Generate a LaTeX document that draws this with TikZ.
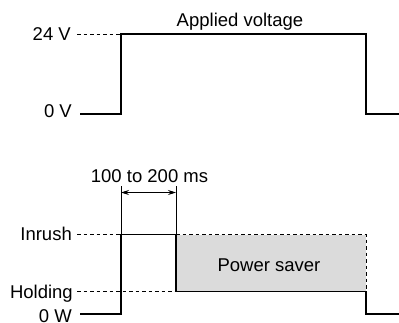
\documentclass[tikz,border=0pt]{standalone}
\usepackage{fontspec}
\setmainfont{Liberation Sans}
\usetikzlibrary{arrows.meta}
\begin{document}
\begin{tikzpicture}[x=1bp,y=-1bp,
  signal/.style={line width=1.3bp,line join=miter},
  thin/.style={line width=0.7bp},
  guide/.style={line width=0.7bp,dash pattern=on 3.5bp off 3bp},
  lbl/.style={inner sep=0pt,font=\fontsize{18.5bp}{21bp}\selectfont},
  dimarrow/.style={line width=0.7bp,{Stealth[length=8bp,width=5bp]}-{Stealth[length=8bp,width=5bp]}}]
\useasboundingbox (0,0) rectangle (399,323);
% coordinates
\coordinate (tL) at (80,114);
\coordinate (tR1) at (121,114);
\coordinate (tT1) at (121,34);
\coordinate (tT2) at (366,34);
\coordinate (tB2) at (366,114);
\coordinate (tE) at (399,114);
\coordinate (bL) at (80,314);
\coordinate (bA) at (121,314);
\coordinate (bB) at (121,234.5);
\coordinate (bC) at (176,234.5);
\coordinate (bD) at (176,291.7);
\coordinate (bF) at (366,291.7);
\coordinate (bG) at (366,314);
\coordinate (bE) at (399,314);
\coordinate (e1) at (121,186);
\coordinate (e2) at (176,186);
\coordinate (a1) at (121,192.5);
\coordinate (a2) at (176,192.5);
% shaded box
\fill[black!14] (bC) rectangle (bF);
% labels
\node[lbl,anchor=base east] (v24) at (71,40) {24 V};
\node[lbl,anchor=base east] (v0) at (72,117.3) {0 V};
\node[lbl,anchor=base] (av) at (240,26) {Applied voltage};
\node[lbl,anchor=base] (tm) at (149.5,182.3) {100 to 200 ms};
\node[lbl,anchor=base east] (inr) at (72,240) {Inrush};
\node[lbl,anchor=base east] (hold) at (73,298.3) {Holding};
\node[lbl,anchor=base east] (w0) at (72,322.8) {0 W};
\node[lbl,anchor=base] (ps) at (269,271.7) {Power saver};
% guides
\draw[guide] (77,34) -- (tT1);
\draw[guide] (77,234.5) -- (bB);
\draw[guide] (77,291.7) -- (bD);
\draw[guide] (bC) -- (366,234.5) -- (bF);
% extension lines and dimension arrow
\draw[thin] (e1) -- (bB);
\draw[thin] (e2) -- (bC);
\draw[dimarrow] (a1) -- (a2);
% signals
\draw[signal] (tL) -- (tR1) -- (tT1) -- (tT2) -- (tB2) -- (tE);
\draw[signal] (bL) -- (bA) -- (bB) -- (bC) -- (bD) -- (bF) -- (bG) -- (bE);
\end{tikzpicture}
\end{document}
